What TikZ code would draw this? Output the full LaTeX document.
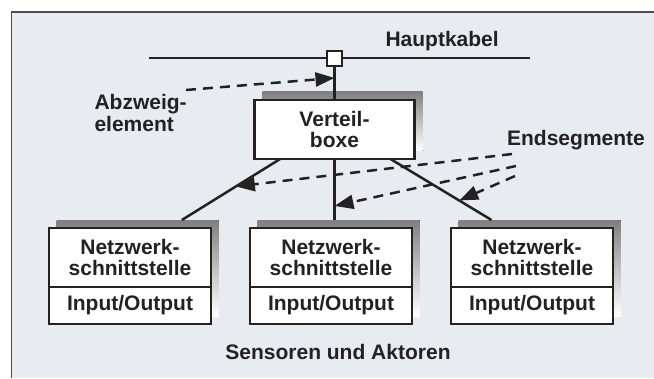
\documentclass[tikz,border=0pt]{standalone}
\usepackage{fontspec}
\setmainfont{Liberation Sans}
\usetikzlibrary{positioning,calc,arrows.meta,backgrounds}

\definecolor{paper}{HTML}{E8ECF1}
\definecolor{shade}{HTML}{4E5B5C}
\definecolor{ink}{HTML}{222222}

\tikzset{
  label text/.style={font=\bfseries\fontsize{21}{21.5}\selectfont, text=ink, align=center},
  box/.style={draw=ink, line width=2.9pt, fill=white, outer sep=0pt, inner sep=0pt, label text},
  netbox/.style={box, minimum width=162pt, minimum height=59pt},
  iobox/.style={box, minimum width=162pt, minimum height=37pt},
  cable/.style={draw=ink, line width=2.5pt},
  pointer/.style={draw=ink, line width=2.5pt, dash pattern=on 10pt off 7pt,
    -{Triangle[length=19pt,width=14pt]}}
}

\begin{document}
\begin{tikzpicture}[x=1pt,y=-1pt]
  \useasboundingbox (0,0) rectangle (654,378);

  % main cable with the branch element
  \coordinate (kabelL) at (149,58);
  \coordinate (kabelR) at (530,58);
  \draw[cable] (kabelL) -- (kabelR);
  \node[draw=ink, fill=white, line width=2.2pt, minimum size=15pt, inner sep=0pt] (abzweig) at (334.5,58.5) {};
  \node[label text, anchor=west] (hauptkabel) at (382,41) {Hauptkabel};

  % distribution box
  \node[box, minimum width=160pt, minimum height=59pt] (verteil) at (334.5,129.5) {Verteil-\\boxe};

  % interfaces
  \foreach \cx/\nm in {130/a, 331/b, 532/c}{
    \node[netbox] (net\nm) at (\cx,257.5) {Netzwerk-\\schnittstelle};
    \node[iobox, below=0pt of net\nm] (io\nm) {Input/Output};
  }
  \node[label text] (sensoren) at (338,352) {Sensoren und Aktoren};

  % end segments
  \draw[cable] (abzweig) -- coordinate[pos=.33] (trefferA) (verteil);
  \draw[cable] ($(verteil.south west)!.16!(verteil.south east)$) -- coordinate[pos=.45] (trefferL)
    ($(neta.north west)!.82!(neta.north east)+(0,-8)$);
  \draw[cable] (verteil.south) -- coordinate[pos=.77] (trefferM) ($(verteil.south |- netb.north)+(0,-8)$);
  \draw[cable] ($(verteil.south west)!.85!(verteil.south east)$) -- coordinate[pos=.68] (trefferR)
    ($(netc.north west)!.25!(netc.north east)+(0,-8)$);

  % labels with dashed pointers
  \node[label text, align=left, anchor=west] (abzweiglabel) at (91,113) {Abzweig-\\element};
  \node[label text] (endsegmente) at (576,140) {Endsegmente};
  \coordinate (vonA) at (186,90);
  \coordinate (vonL) at (512,154);
  \coordinate (vonM) at (516,166);
  \coordinate (vonR) at (515,176);
  \draw[pointer] (vonA) -- (trefferA);
  \draw[pointer] (vonL) -- (trefferL);
  \draw[pointer] (vonM) -- (trefferM);
  \draw[pointer] (vonR) -- (trefferR);

  % paper, frame and shadows
  \begin{scope}[on background layer]
    \fill[white] (0,0) rectangle (654,378);
    \fill[paper] (11.5,12) rectangle (654,378);
    \draw[ink!80, line width=1.4pt] (11.5,378) -- (11.5,12) -- (654,12);
    \fill[shade] ($(verteil.north west)+(8,-8.5)$) rectangle ($(verteil.south east)+(8,-8.5)$);
    \foreach \nm in {a,b,c}
      \fill[shade] ($(net\nm.north west)+(7.5,-8)$) rectangle ($(io\nm.south east)+(7.5,-8)$);
  \end{scope}
\end{tikzpicture}
\end{document}
